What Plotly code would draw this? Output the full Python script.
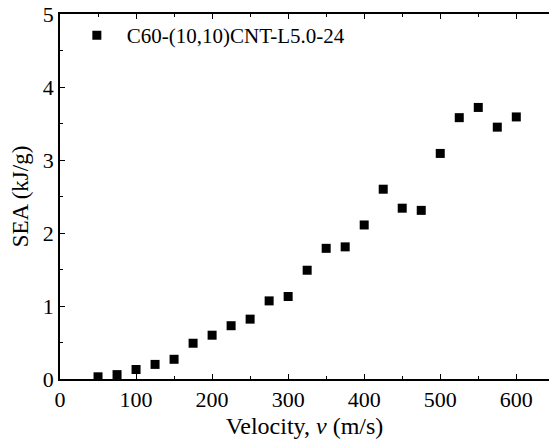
import plotly.graph_objects as go

# impact velocity (m/s) and specific energy absorption (kJ/g)
velocity = [50, 75, 100, 125, 150, 175, 200, 225, 250, 275, 300, 325,
            350, 375, 400, 425, 450, 475, 500, 525, 550, 575, 600]
sea = [0.03, 0.06, 0.13, 0.20, 0.27, 0.49, 0.60, 0.73, 0.82, 1.07, 1.13, 1.49,
       1.79, 1.81, 2.11, 2.60, 2.34, 2.31, 3.09, 3.58, 3.72, 3.45, 3.59]
series_name = "C60-(10,10)CNT-L5.0-24"

font_family = "Liberation Serif"

fig = go.Figure()

fig.add_trace(go.Scatter(
    x=velocity,
    y=sea,
    mode='markers',
    name=series_name,
    marker=dict(symbol='square', color='black', size=9),
))

axis_common = dict(
    showgrid=False,
    zeroline=False,
    showline=True,
    linecolor='black',
    linewidth=1.5,
    ticks='inside',
    ticklen=5,
    tickwidth=1,
    tickcolor='black',
    automargin=False,
    ticklabeloverflow='allow',
    tickfont=dict(family=font_family, size=22, color='black'),
)

fig.update_xaxes(
    range=[0, 643],
    dtick=100,
    tick0=0,
    mirror='ticks',
    minor=dict(dtick=50, ticks='inside', ticklen=3, tickcolor='black'),
    title=dict(text="Velocity, <i>v</i> (m/s)", font=dict(family=font_family, size=24, color='black'), standoff=6),
    **axis_common
)
fig.update_yaxes(
    range=[0, 5],
    dtick=1,
    tick0=0,
    minor=dict(dtick=0.5, ticks='inside', ticklen=3, tickcolor='black'),
    title=dict(text="SEA (kJ/g)", font=dict(family=font_family, size=23, color='black'), standoff=8),
    **axis_common
)

fig.update_layout(
    width=549,
    height=447,
    margin=dict(l=60, r=0, t=14, b=68),
    plot_bgcolor='white',
    paper_bgcolor='white',
    showlegend=True,
    legend=dict(
        x=0.014, y=0.997, xanchor='left', yanchor='top',
        itemwidth=50,
        bgcolor='rgba(0,0,0,0)',
        font=dict(family=font_family, size=21, color='black'),
    ),
)

# drop the browser's default 8px body margin so the figure sits at the page corner
fig.write_html("out.html", config={'displayModeBar': False},
               post_script="document.body.style.margin='0';")
